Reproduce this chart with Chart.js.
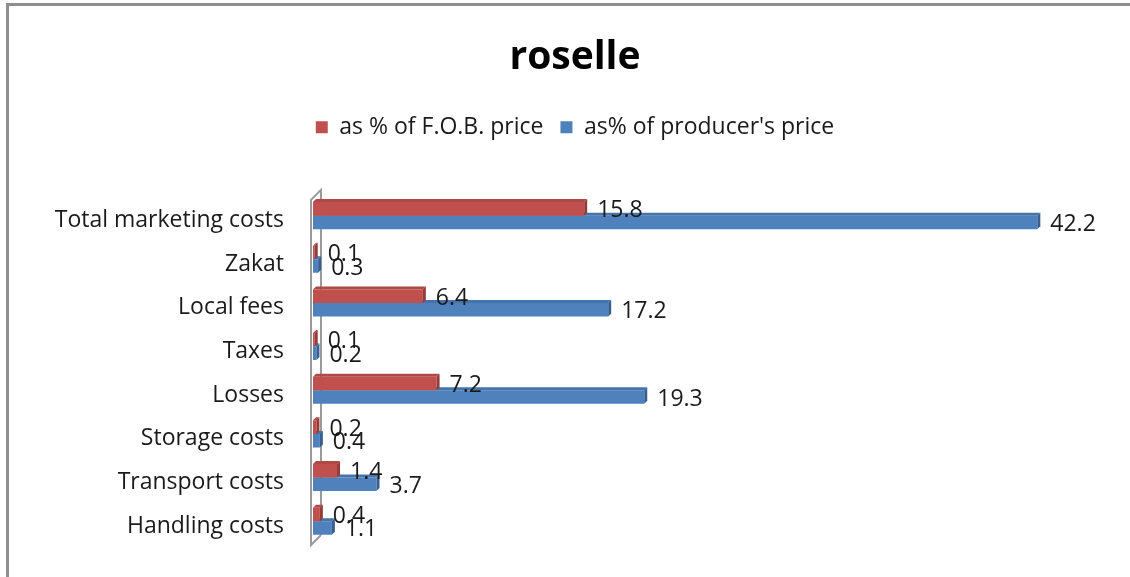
<!DOCTYPE html>
<html>
<head>
<meta charset="utf-8">
<script src="https://cdn.jsdelivr.net/npm/chart.js@4.4.1/dist/chart.umd.min.js"></script>
<style>
  html, body { margin: 0; padding: 0; background: #fff; }
  #wrap { position: relative; width: 1130px; height: 577px; overflow: hidden; }
  #frame { position: absolute; left: 6px; top: 3px; width: 1200px; height: 700px;
           border: 3px solid #8e8e8e; box-sizing: border-box; }
  canvas { position: absolute; left: 0; top: 0; }
</style>
</head>
<body>
<div id="wrap">
  <div id="frame"></div>
  <canvas id="myChart" width="1130" height="577"></canvas>
</div>
<script>
const categories = ['Total marketing costs', 'Zakat', 'Local fees', 'Taxes', 'Losses',
                    'Storage costs', 'Transport costs', 'Handling costs'];
const fobShare = [15.8, 0.1, 6.4, 0.1, 7.2, 0.2, 1.4, 0.4];
const producerShare = [42.2, 0.3, 17.2, 0.2, 19.3, 0.4, 3.7, 1.1];
const seriesNames = ['as % of F.O.B. price', "as% of producer's price"];

const FONT = '"Open Sans", "Noto Sans", sans-serif';
const TEXT_SIZE = 23;
const DEPTH = 3;

// side and top faces give the bars their extruded look
const faces = {
  '#C0504D': { side: '#943c3a', top: '#b04845' },
  '#4F81BD': { side: '#375f8f', top: '#4673a9' }
};

const wallPlugin = {
  id: 'wall',
  beforeDatasetsDraw(chart) {
    const { ctx, chartArea: a } = chart;
    ctx.save();
    ctx.strokeStyle = '#9a9a9a';
    ctx.lineWidth = 2;
    ctx.beginPath();
    ctx.moveTo(a.left + 8, a.bottom - 8);
    ctx.lineTo(a.left + 8, a.top - 4);
    ctx.lineTo(a.left - 2, a.top + 6);
    ctx.lineTo(a.left - 2, a.bottom + 2);
    ctx.lineTo(a.left + 8, a.bottom - 8);
    ctx.stroke();
    ctx.restore();
  }
};

const depthPlugin = {
  id: 'depth',
  afterDatasetDraw(chart, args) {
    const { ctx } = chart;
    const ds = chart.data.datasets[args.index];
    const f = faces[ds.backgroundColor];
    ctx.save();
    args.meta.data.forEach(bar => {
      const top = bar.y - bar.height / 2;
      const bottom = bar.y + bar.height / 2;
      ctx.fillStyle = f.top;
      ctx.beginPath();
      ctx.moveTo(bar.base, top);
      ctx.lineTo(bar.base + DEPTH, top - DEPTH);
      ctx.lineTo(bar.x + DEPTH, top - DEPTH);
      ctx.lineTo(bar.x, top);
      ctx.closePath();
      ctx.fill();
      ctx.fillStyle = f.side;
      ctx.beginPath();
      ctx.moveTo(bar.x, top);
      ctx.lineTo(bar.x + DEPTH, top - DEPTH);
      ctx.lineTo(bar.x + DEPTH, bottom - DEPTH);
      ctx.lineTo(bar.x, bottom);
      ctx.closePath();
      ctx.fill();
    });
    ctx.restore();
  }
};

const valueLabels = {
  id: 'valueLabels',
  afterDatasetsDraw(chart) {
    const { ctx } = chart;
    ctx.save();
    ctx.font = TEXT_SIZE + 'px ' + FONT;
    ctx.fillStyle = '#1a1a1a';
    ctx.textAlign = 'left';
    ctx.textBaseline = 'middle';
    chart.data.datasets.forEach((ds, i) => {
      chart.getDatasetMeta(i).data.forEach((bar, j) => {
        ctx.fillText(ds.data[j].toFixed(1), bar.x + DEPTH + 10, bar.y + 2);
      });
    });
    ctx.restore();
  }
};

const ctx = document.getElementById('myChart').getContext('2d');
new Chart(ctx, {
  type: 'bar',
  data: {
    labels: categories,
    datasets: [
      { label: seriesNames[0], data: fobShare, backgroundColor: '#C0504D',
        categoryPercentage: 0.62, barPercentage: 1.0 },
      { label: seriesNames[1], data: producerShare, backgroundColor: '#4F81BD',
        categoryPercentage: 0.62, barPercentage: 1.0 }
    ]
  },
  options: {
    indexAxis: 'y',
    responsive: false,
    animation: false,
    layout: { padding: { left: 20, right: 0, top: 0, bottom: 34 } },
    plugins: {
      title: {
        display: true,
        text: 'roselle',
        color: '#000',
        font: { family: FONT, size: 39, weight: 'bold' },
        padding: { top: 34, bottom: 18 }
      },
      legend: {
        display: true,
        labels: {
          color: '#1a1a1a',
          font: { family: FONT, size: TEXT_SIZE },
          boxWidth: 12,
          boxHeight: 12,
          padding: 17
        }
      },
      tooltip: { enabled: false }
    },
    scales: {
      x: {
        position: 'top',
        min: 0,
        max: 47.6,
        grid: { display: false, drawTicks: false },
        border: { display: false },
        ticks: { display: false },
        afterFit(scale) { scale.height = 45; }
      },
      y: {
        grid: { display: false, drawTicks: false },
        border: { display: false },
        ticks: {
          color: '#1a1a1a',
          font: { family: FONT, size: TEXT_SIZE },
          padding: 29,
          labelOffset: 5
        },
        afterFit(scale) {
          scale.width = 293;
          scale.paddingTop = 0;
          scale.paddingBottom = 0;
        }
      }
    }
  },
  plugins: [wallPlugin, depthPlugin, valueLabels]
});
</script>
</body>
</html>
